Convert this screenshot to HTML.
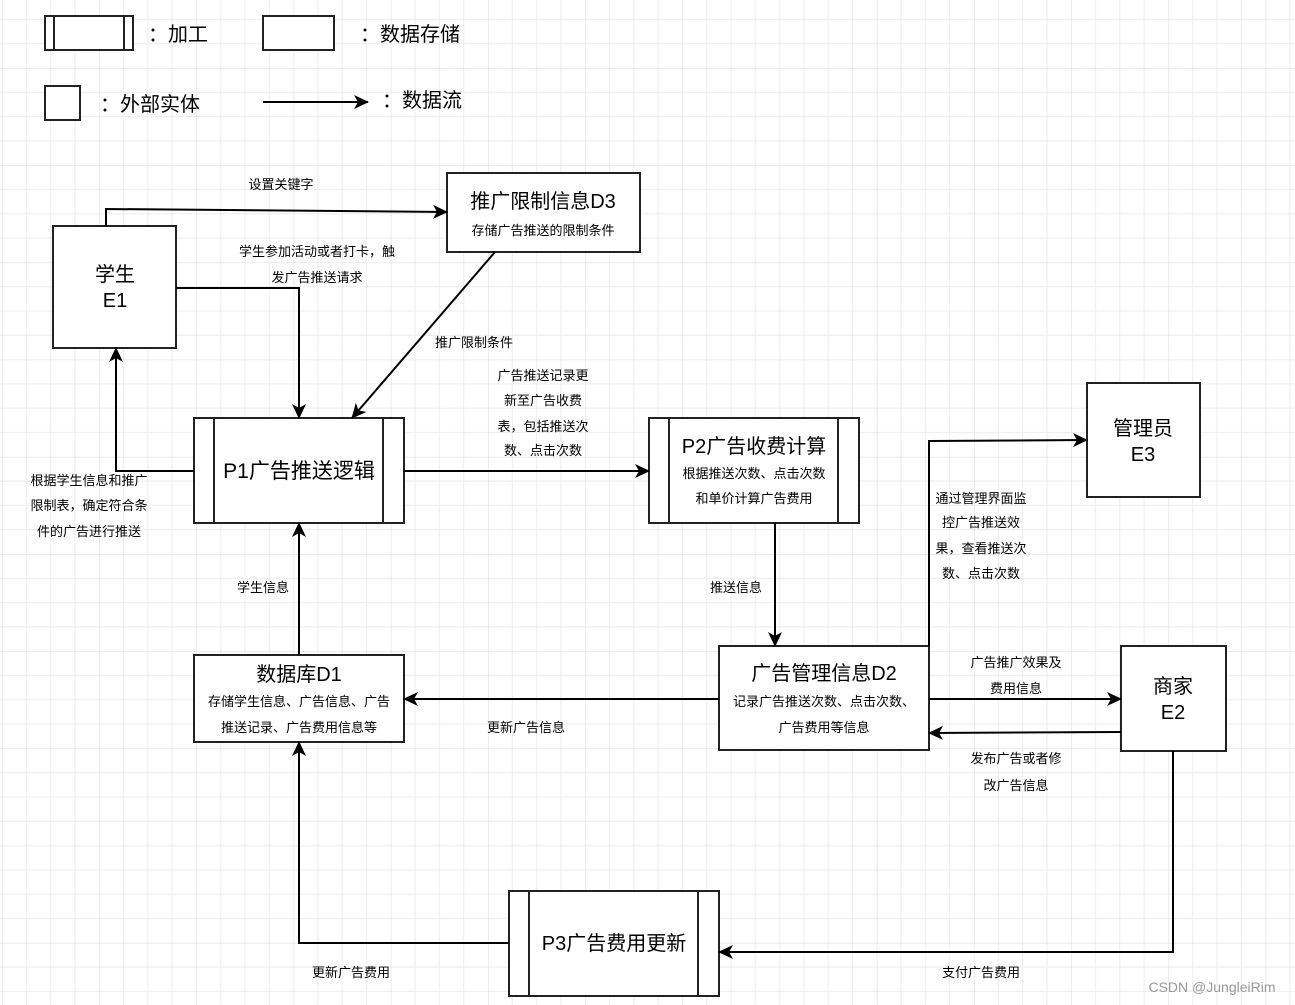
<!DOCTYPE html>
<html><head><meta charset="utf-8"><style>
html,body{margin:0;padding:0;background:#fff}
svg{display:block}
text{font-family:"Liberation Sans","Noto Sans CJK SC",sans-serif;fill:#000;text-anchor:middle}
.s{font-size:13px}
.t{font-size:20px}
</style></head><body>
<svg width="1295" height="1005" xmlns="http://www.w3.org/2000/svg">
<defs>
<pattern id="g" x="2" y="68" width="97.2" height="97.2" patternUnits="userSpaceOnUse">
<path d="M24.3 0V97.2M48.6 0V97.2M72.9 0V97.2M0 24.3H97.2M0 48.6H97.2M0 72.9H97.2" stroke="#ececec" stroke-width="1" fill="none"/>
<path d="M0 0V97.2M0 0H97.2" stroke="#dedede" stroke-width="1.2" fill="none"/>
</pattern>
<marker id="a" markerWidth="16" markerHeight="14" refX="14" refY="7" orient="auto" markerUnits="userSpaceOnUse">
<path d="M0,0 L15,7 L0,14 L4,7 Z" fill="#000"/>
</marker>
</defs>
<rect width="1295" height="1005" fill="url(#g)"/>
<g stroke="#222" stroke-width="2" fill="#fff">
<rect x="45" y="16" width="88" height="34"/><line x1="54" y1="16" x2="54" y2="50"/><line x1="124" y1="16" x2="124" y2="50"/>
<rect x="263" y="16" width="71" height="34"/>
<rect x="45" y="86" width="35" height="34"/>
<rect x="53" y="226" width="123" height="122"/>
<rect x="447" y="173" width="193" height="79"/>
<rect x="194" y="418" width="210" height="105"/><line x1="214" y1="418" x2="214" y2="523"/><line x1="383" y1="418" x2="383" y2="523"/>
<rect x="649" y="418" width="210" height="105"/><line x1="669" y1="418" x2="669" y2="523"/><line x1="838" y1="418" x2="838" y2="523"/>
<rect x="1087" y="383" width="113" height="114"/>
<rect x="194" y="655" width="210" height="87"/>
<rect x="719" y="646" width="210" height="104"/>
<rect x="1121" y="646" width="105" height="105"/>
<rect x="509" y="891" width="210" height="105"/><line x1="529" y1="891" x2="529" y2="996"/><line x1="698" y1="891" x2="698" y2="996"/>
</g>
<g stroke="#000" stroke-width="2" fill="none" marker-end="url(#a)">
<path d="M263 102H368"/>
<path d="M106 226V209L447 212"/>
<path d="M176 288H299V418"/>
<path d="M495 252L352 418"/>
<path d="M404 471H649"/>
<path d="M194 471H116V348"/>
<path d="M299 655V523"/>
<path d="M775 523V646"/>
<path d="M719 699H404"/>
<path d="M929 646V441L1087 440"/>
<path d="M929 699H1121"/>
<path d="M1121 732L929 733"/>
<path d="M1173 751V952H719"/>
<path d="M509 943H299V742"/>
</g>
<g style="font-size:20px">
<text x="178" y="41">：加工</text>
<text x="410" y="41">：数据存储</text>
<text x="150" y="111">：外部实体</text>
<text x="422" y="107">：数据流</text>
</g>
<text class="t" x="115" y="281">学生</text><text class="t" x="115" y="307">E1</text>
<text class="t" x="543" y="208">推广限制信息D3</text><text class="s" x="543" y="235">存储广告推送的限制条件</text>
<text style="font-size:21px" x="299" y="478">P1广告推送逻辑</text>
<text class="t" x="754" y="453">P2广告收费计算</text><text class="s" x="754" y="478">根据推送次数、点击次数</text><text class="s" x="754" y="503">和单价计算广告费用</text>
<text class="t" x="1143" y="435">管理员</text><text class="t" x="1143" y="461">E3</text>
<text class="t" x="299" y="681">数据库D1</text><text class="s" x="299" y="706">存储学生信息、广告信息、广告</text><text class="s" x="299" y="732">推送记录、广告费用信息等</text>
<text class="t" x="824" y="680">广告管理信息D2</text><text class="s" x="824" y="706">记录广告推送次数、点击次数、</text><text class="s" x="824" y="732">广告费用等信息</text>
<text class="t" x="1173" y="693">商家</text><text class="t" x="1173" y="719">E2</text>
<text class="t" x="614" y="950">P3广告费用更新</text>
<g>
<text class="s" x="281" y="189">设置关键字</text>
<text class="s" x="317" y="256">学生参加活动或者打卡，触</text><text class="s" x="317" y="282">发广告推送请求</text>
<text class="s" x="474" y="347">推广限制条件</text>
<text class="s" x="543" y="380">广告推送记录更</text><text class="s" x="543" y="405">新至广告收费</text><text class="s" x="543" y="431">表，包括推送次</text><text class="s" x="543" y="455">数、点击次数</text>
<text class="s" x="89" y="485">根据学生信息和推广</text><text class="s" x="89" y="510">限制表，确定符合条</text><text class="s" x="89" y="536">件的广告进行推送</text>
<text class="s" x="263" y="592">学生信息</text>
<text class="s" x="736" y="592">推送信息</text>
<text class="s" x="526" y="732">更新广告信息</text>
<text class="s" x="981" y="503">通过管理界面监</text><text class="s" x="981" y="527">控广告推送效</text><text class="s" x="981" y="553">果，查看推送次</text><text class="s" x="981" y="578">数、点击次数</text>
<text class="s" x="1016" y="667">广告推广效果及</text><text class="s" x="1016" y="693">费用信息</text>
<text class="s" x="1016" y="763">发布广告或者修</text><text class="s" x="1016" y="790">改广告信息</text>
<text class="s" x="981" y="977">支付广告费用</text>
<text class="s" x="351" y="977">更新广告费用</text>
</g>
<text x="1212" y="992" style="font-size:14px;fill:#999">CSDN @JungleiRim</text>
</svg>
</body></html>
